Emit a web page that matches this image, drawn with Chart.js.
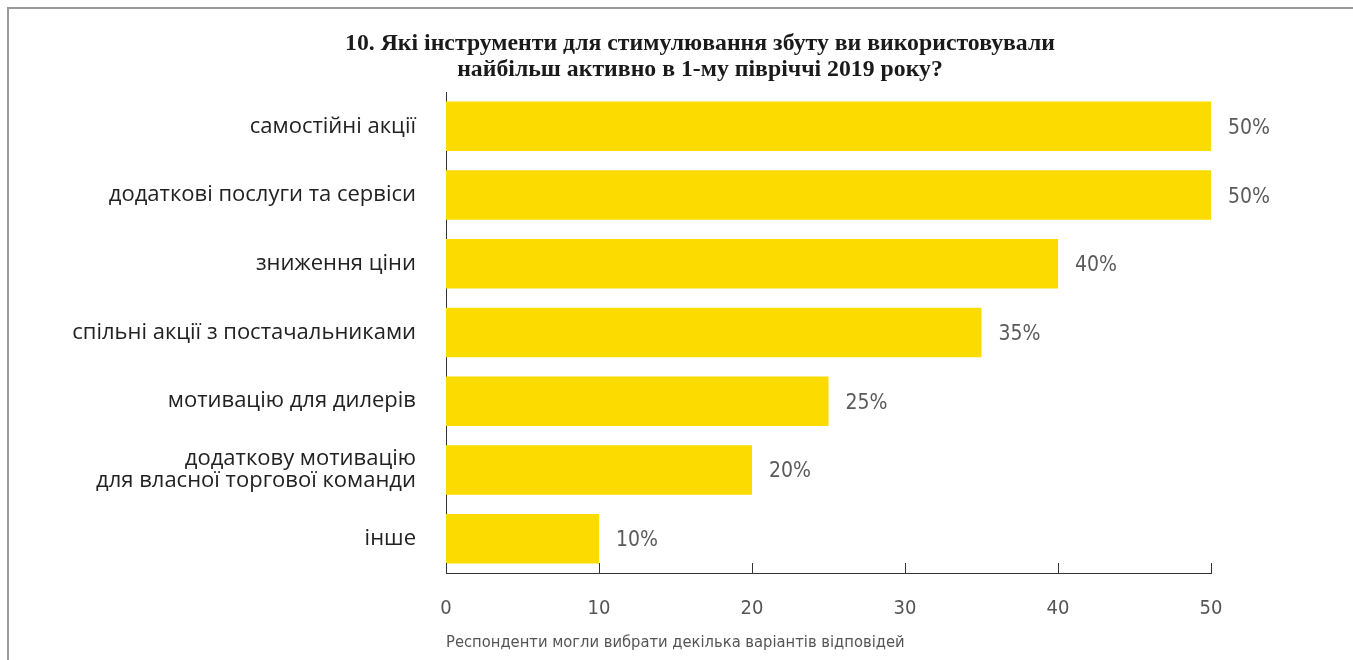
<!DOCTYPE html>
<html>
<head>
<meta charset="utf-8">
<script src="https://cdn.jsdelivr.net/npm/chart.js@4/dist/chart.umd.min.js"></script>
<style>
  html, body { margin: 0; padding: 0; background: #fff; }
  #wrap { position: relative; width: 1353px; height: 660px; }
  #frame { position: absolute; left: 7px; top: 7px; right: 0; bottom: 0;
           border-top: 2px solid #9a9a9a; border-left: 2px solid #9a9a9a; pointer-events: none; }
  canvas { position: absolute; left: 0; top: 0; }
</style>
</head>
<body>
<div id="wrap">
  <canvas id="c" width="1353" height="660"></canvas>
  <div id="frame"></div>
</div>
<script>
const titleLines = [
  "10. Які інструменти для стимулювання збуту ви використовували",
  "найбільш активно в 1-му півріччі 2019 року?"
];
const categories = [
  "самостійні акції",
  "додаткові послуги та сервіси",
  "зниження ціни",
  "спільні акції з постачальниками",
  "мотивацію для дилерів",
  ["додаткову мотивацію", "для власної торгової команди"],
  "інше"
];
const values = [50, 50, 40, 35, 25, 20, 10];
const footnote = "Респонденти могли вибрати декілька варіантів відповідей";
const xMin = 0, xMax = 50, xStep = 10;

const catFont = "'Open Sans', 'Noto Sans', sans-serif";
const thinFont = "'Liberation Sans Narrow', 'DejaVu Sans Condensed', sans-serif";

const titlePlugin = {
  id: 'titlePlugin',
  afterDraw(chart) {
    const ctx = chart.ctx;
    ctx.save();
    ctx.font = "bold 24px 'Liberation Serif', 'DejaVu Serif', serif";
    ctx.fillStyle = "#1a1a1a";
    ctx.textAlign = "center";
    ctx.textBaseline = "middle";
    const w = ctx.measureText(titleLines[0]).width;
    const sx = 710 / w;
    const cx = 700;
    titleLines.forEach((line, i) => {
      ctx.save();
      ctx.translate(cx, 44 + i * 26);
      ctx.scale(sx, 1);
      ctx.fillText(line, 0, 0);
      ctx.restore();
    });
    ctx.restore();
  }
};

const valueLabels = {
  id: 'valueLabels',
  afterDatasetsDraw(chart) {
    const ctx = chart.ctx;
    const meta = chart.getDatasetMeta(0);
    ctx.save();
    ctx.font = "300 21px " + thinFont;
    ctx.fillStyle = "#5a5a5a";
    ctx.textAlign = "left";
    ctx.textBaseline = "middle";
    meta.data.forEach((bar, i) => {
      ctx.fillText(values[i] + "%", bar.x + 17, bar.y + 2);
    });
    ctx.restore();
  }
};

const innerTicks = {
  id: 'innerTicks',
  afterDatasetsDraw(chart) {
    const ctx = chart.ctx;
    const xs = chart.scales.x;
    const bottom = chart.chartArea.bottom;
    ctx.save();
    ctx.strokeStyle = "#333";
    ctx.lineWidth = 1;
    xs.ticks.forEach(t => {
      const px = Math.round(xs.getPixelForValue(t.value)) + 0.5;
      ctx.beginPath();
      ctx.moveTo(px, bottom);
      ctx.lineTo(px, bottom - 10);
      ctx.stroke();
    });
    ctx.restore();
  }
};

new Chart(document.getElementById('c'), {
  type: 'bar',
  data: {
    labels: categories,
    datasets: [{
      data: values,
      backgroundColor: '#FCDC00',
      borderWidth: 0,
      barPercentage: 0.72,
      categoryPercentage: 1.0
    }]
  },
  options: {
    indexAxis: 'y',
    responsive: false,
    animation: false,
    layout: { padding: { left: 0, right: 142, top: 92, bottom: 7 } },
    plugins: {
      legend: { display: false },
      tooltip: { enabled: false },
      title: { display: false }
    },
    scales: {
      x: {
        min: xMin, max: xMax,
        ticks: { stepSize: xStep, color: '#555', padding: 24,
                 font: { family: thinFont, size: 20, weight: '300' } },
        grid: { display: false, drawTicks: false },
        border: { display: true, color: '#333', width: 1 },
        title: {
          display: true, text: footnote, align: 'start', color: '#555',
          font: { family: thinFont, size: 16.4 }, padding: { top: 13, bottom: 0 }
        },
        afterFit(scale) { scale.height = 80; }
      },
      y: {
        ticks: { color: '#222', padding: 30, font: { family: catFont, size: 22, lineHeight: 1.0 } },
        grid: { display: false, drawTicks: false },
        border: { display: true, color: '#333', width: 1 },
        afterFit(scale) { scale.width = 446; }
      }
    }
  },
  plugins: [valueLabels, innerTicks, titlePlugin]
});
</script>
</body>
</html>
